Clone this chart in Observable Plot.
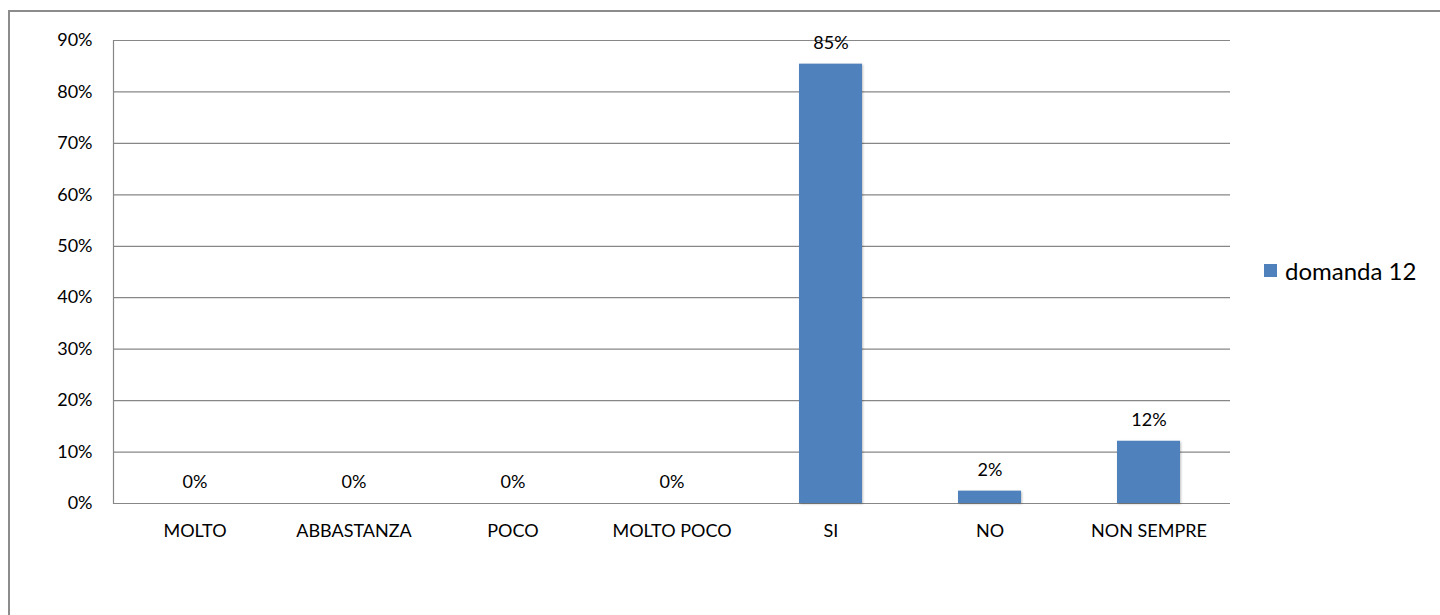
<!DOCTYPE html>
<html>
<head>
<meta charset="utf-8">
<script src="https://cdn.jsdelivr.net/npm/d3@7"></script>
<script src="https://cdn.jsdelivr.net/npm/@observablehq/plot@0.6"></script>
<style>
  html, body { margin: 0; padding: 0; background: #fff; }
  #wrap { position: relative; width: 1440px; height: 615px; overflow: hidden; font-family: Lato, "Open Sans", sans-serif; }
  #border { position: absolute; left: 8px; top: 10px; width: 1500px; height: 700px; border-left: 2px solid #8c8c8c; border-top: 2px solid #8c8c8c; box-sizing: border-box; }
  #legend { position: absolute; left: 1264px; top: 256px; display: flex; align-items: center; font-size: 24px; color: #000; }
  #legend .sw { width: 13px; height: 13px; background: #4F81BD; margin-right: 8px; }
  #chart { position: absolute; left: 0; top: 0; }
  g[aria-label="bar"] rect { filter: drop-shadow(1px 1px 1px rgba(0,0,0,0.25)); }
</style>
</head>
<body>
<div id="wrap">
  <div id="border"></div>
  <div id="chart"></div>
  <div id="legend"><div class="sw"></div><span id="legendText"></span></div>
</div>
<script>
const categories = ["MOLTO", "ABBASTANZA", "POCO", "MOLTO POCO", "SI", "NO", "NON SEMPRE"];
const values = [0, 0, 0, 0, 0.854, 0.024, 0.121];
const seriesName = "domanda 12";
const yTicks = [0, 0.1, 0.2, 0.3, 0.4, 0.5, 0.6, 0.7, 0.8, 0.9];

const data = categories.map((c, i) => ({category: c, value: values[i]}));
document.getElementById("legendText").textContent = seriesName;

const chart = Plot.plot({
  width: 1440,
  height: 615,
  marginLeft: 113,
  marginRight: 210,
  marginTop: 40,
  marginBottom: 112,
  style: {fontFamily: "Lato, 'Open Sans', sans-serif", fontSize: "18px", color: "#000", background: "transparent"},
  x: {domain: categories, paddingInner: 0.605, paddingOuter: 0.3025, label: null, tickSize: 0, tickPadding: 21},
  y: {domain: [0, 0.9], ticks: yTicks, tickFormat: d3.format(".0%"), label: null, tickSize: 0, tickPadding: 21},
  marks: [
    Plot.gridY(yTicks, {stroke: "#878787", strokeOpacity: 1, strokeWidth: 1.2}),
    Plot.frame({anchor: "left", stroke: "#878787", strokeWidth: 1.2}),
    Plot.ruleY([0], {stroke: "#878787", strokeWidth: 1.2}),
    Plot.barY(data, {x: "category", y: "value", fill: "#4F81BD"}),
    Plot.text(data, {x: "category", y: "value", text: d => Math.round(d.value * 100) + "%", dy: -21, fill: "#000", fontSize: 18, lineAnchor: "middle"}),
    Plot.axisX({tickSize: 0, tickPadding: 21, fontSize: 18}),
    Plot.axisY({ticks: yTicks, tickFormat: d3.format(".0%"), tickSize: 0, tickPadding: 21, fontSize: 18})
  ]
});
document.getElementById("chart").appendChild(chart);
</script>
</body>
</html>
